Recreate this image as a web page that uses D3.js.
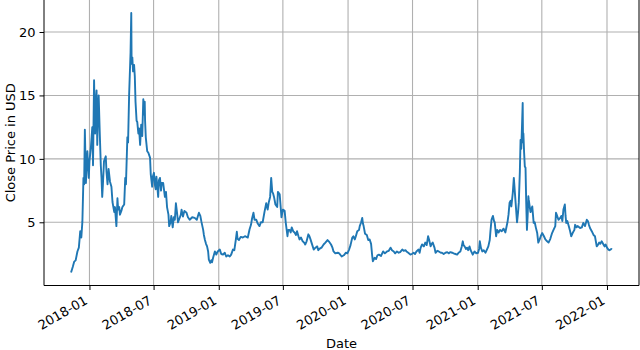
<!DOCTYPE html>
<html>
<head>
<meta charset="utf-8">
<script src="https://cdn.jsdelivr.net/npm/d3@7"></script>
<style>
  body { margin: 0; background: #fff; }
  svg { display: block; font-family: "DejaVu Sans", sans-serif; }
</style>
</head>
<body>
<div id="chart"></div>
<script>
var dates = [
  "2017-11-10","2017-11-15","2017-11-19","2017-11-23","2017-11-28","2017-12-02","2017-12-06","2017-12-09","2017-12-12","2017-12-15",
  "2017-12-17","2017-12-19","2017-12-22","2017-12-24","2017-12-26","2017-12-30","2018-01-01","2018-01-05","2018-01-09","2018-01-11",
  "2018-01-14","2018-01-16","2018-01-17","2018-01-18","2018-01-21","2018-01-23","2018-01-25","2018-01-27","2018-01-30","2018-02-02",
  "2018-02-04","2018-02-06","2018-02-08","2018-02-11","2018-02-16","2018-02-18","2018-02-21","2018-02-24","2018-02-28","2018-03-04",
  "2018-03-07","2018-03-12","2018-03-14","2018-03-18","2018-03-21","2018-03-23","2018-03-26","2018-03-28","2018-04-01","2018-04-04",
  "2018-04-09","2018-04-12","2018-04-14","2018-04-18","2018-04-20","2018-04-23","2018-04-27","2018-04-29","2018-04-30","2018-05-02",
  "2018-05-04","2018-05-07","2018-05-09","2018-05-11","2018-05-14","2018-05-16","2018-05-19","2018-05-21","2018-05-24","2018-05-27",
  "2018-05-30","2018-06-02","2018-06-04","2018-06-06","2018-06-07","2018-06-09","2018-06-13","2018-06-16","2018-06-21","2018-06-23",
  "2018-06-27","2018-06-29","2018-07-02","2018-07-05","2018-07-07","2018-07-09","2018-07-14","2018-07-16","2018-07-19","2018-07-22",
  "2018-07-24","2018-07-28","2018-08-02","2018-08-05","2018-08-08","2018-08-12","2018-08-14","2018-08-18","2018-08-20","2018-08-24",
  "2018-08-27","2018-08-30","2018-09-02","2018-09-05","2018-09-08","2018-09-12","2018-09-16","2018-09-18","2018-09-22","2018-09-26",
  "2018-10-02","2018-10-06","2018-10-11","2018-10-18","2018-10-25","2018-10-31","2018-11-06","2018-11-10","2018-11-13","2018-11-18",
  "2018-11-20","2018-11-23","2018-11-26","2018-11-29","2018-12-02","2018-12-04","2018-12-08","2018-12-11","2018-12-13","2018-12-16",
  "2018-12-21","2018-12-25","2018-12-29","2019-01-04","2019-01-08","2019-01-13","2019-01-18","2019-01-22","2019-01-27","2019-02-01",
  "2019-02-05","2019-02-10","2019-02-14","2019-02-18","2019-02-21","2019-02-23","2019-02-27","2019-03-04","2019-03-10","2019-03-16",
  "2019-03-24","2019-03-29","2019-04-02","2019-04-05","2019-04-09","2019-04-12","2019-04-17","2019-04-21","2019-04-26","2019-04-30",
  "2019-05-05","2019-05-10","2019-05-15","2019-05-19","2019-05-22","2019-05-26","2019-05-29","2019-06-01","2019-06-03","2019-06-06",
  "2019-06-10","2019-06-15","2019-06-17","2019-06-22","2019-06-24","2019-06-27","2019-07-01","2019-07-06","2019-07-09","2019-07-14",
  "2019-07-16","2019-07-20","2019-07-23","2019-07-26","2019-07-30","2019-08-03","2019-08-07","2019-08-10","2019-08-14","2019-08-17",
  "2019-08-21","2019-08-26","2019-08-30","2019-09-02","2019-09-06","2019-09-11","2019-09-14","2019-09-17","2019-09-21","2019-09-26",
  "2019-10-01","2019-10-06","2019-10-09","2019-10-12","2019-10-18","2019-10-24","2019-10-29","2019-11-04","2019-11-09","2019-11-14",
  "2019-11-18","2019-11-21","2019-11-26","2019-12-03","2019-12-07","2019-12-14","2019-12-20","2019-12-26","2019-12-30","2020-01-04",
  "2020-01-08","2020-01-13","2020-01-16","2020-01-20","2020-01-23","2020-01-27","2020-02-01","2020-02-03","2020-02-07","2020-02-10",
  "2020-02-12","2020-02-14","2020-02-18","2020-02-23","2020-02-27","2020-03-02","2020-03-06","2020-03-09","2020-03-11","2020-03-16",
  "2020-03-20","2020-03-24","2020-03-28","2020-04-03","2020-04-09","2020-04-14","2020-04-20","2020-04-25","2020-04-30","2020-05-04",
  "2020-05-09","2020-05-13","2020-05-18","2020-05-23","2020-05-27","2020-06-02","2020-06-06","2020-06-11","2020-06-14","2020-06-19",
  "2020-06-25","2020-06-29","2020-07-04","2020-07-08","2020-07-12","2020-07-18","2020-07-21","2020-07-24","2020-07-28","2020-08-02",
  "2020-08-06","2020-08-10","2020-08-14","2020-08-17","2020-08-21","2020-08-24","2020-08-27","2020-09-01","2020-09-04","2020-09-09",
  "2020-09-13","2020-09-19","2020-09-22","2020-09-27","2020-10-02","2020-10-07","2020-10-11","2020-10-16","2020-10-21","2020-10-25",
  "2020-10-30","2020-11-04","2020-11-08","2020-11-13","2020-11-17","2020-11-20","2020-11-22","2020-11-25","2020-11-29","2020-12-02",
  "2020-12-05","2020-12-09","2020-12-12","2020-12-18","2020-12-21","2020-12-23","2020-12-28","2021-01-02","2021-01-05","2021-01-07",
  "2021-01-10","2021-01-14","2021-01-18","2021-01-23","2021-01-27","2021-01-31","2021-02-04","2021-02-06","2021-02-09","2021-02-13",
  "2021-02-16","2021-02-18","2021-02-22","2021-02-25","2021-03-01","2021-03-05","2021-03-10","2021-03-15","2021-03-20","2021-03-26",
  "2021-03-29","2021-04-01","2021-04-04","2021-04-06","2021-04-10","2021-04-13","2021-04-18","2021-04-22","2021-04-25","2021-04-27",
  "2021-04-30","2021-05-02","2021-05-04","2021-05-06","2021-05-08","2021-05-09","2021-05-10","2021-05-12","2021-05-14","2021-05-16",
  "2021-05-18","2021-05-20","2021-05-22","2021-05-24","2021-05-25","2021-05-30","2021-06-04","2021-06-08","2021-06-11","2021-06-14",
  "2021-06-18","2021-06-21","2021-06-25","2021-06-28","2021-07-02","2021-07-07","2021-07-11","2021-07-16","2021-07-20","2021-07-25",
  "2021-07-30","2021-08-03","2021-08-08","2021-08-10","2021-08-12","2021-08-17","2021-08-22","2021-08-25","2021-08-28","2021-08-31",
  "2021-09-04","2021-09-06","2021-09-08","2021-09-11","2021-09-15","2021-09-18","2021-09-22","2021-09-26","2021-10-01","2021-10-03",
  "2021-10-07","2021-10-10","2021-10-17","2021-10-22","2021-10-26","2021-10-31","2021-11-05","2021-11-08","2021-11-11","2021-11-14",
  "2021-11-19","2021-11-24","2021-11-28","2021-12-03","2021-12-06","2021-12-10","2021-12-13","2021-12-17","2021-12-22","2021-12-25",
  "2021-12-28","2022-01-01","2022-01-05","2022-01-08","2022-01-13","2022-01-15"
];
var closes = [
  1.04,1.5,1.9,2.0,2.7,3.0,4.3,3.8,5.05,8.5,
  8.0,12.3,8.1,9.5,10.6,8.5,9.8,10.9,12.5,9.5,
  16.2,13.0,12.0,14.0,15.4,11.1,13.5,15.0,12.1,9.5,
  8.5,7.0,8.0,9.8,10.2,9.0,8.0,9.2,8.2,7.8,
  6.6,5.8,6.2,4.7,6.9,6.0,6.2,5.6,5.9,6.2,
  6.4,8.5,8.0,11.7,11.3,15.1,18.4,21.5,17.5,18.0,
  16.9,17.4,16.5,14.5,13.0,12.9,12.0,12.4,11.1,12.7,
  11.8,14.7,13.5,14.5,13.0,11.7,10.6,10.5,10.1,8.8,
  7.8,8.6,8.9,7.9,7.6,8.6,7.0,8.3,8.5,7.5,
  8.1,8.1,7.0,7.4,6.2,5.6,4.7,5.0,5.5,4.6,
  5.4,5.2,6.5,5.8,5.0,5.3,5.6,6.0,5.45,5.9,
  5.75,5.4,5.2,5.4,5.35,5.2,5.75,5.5,5.05,4.4,
  4.0,3.6,3.3,3.1,2.7,2.06,1.8,2.0,1.85,2.2,
  2.7,2.45,2.7,2.85,2.5,2.45,2.6,2.3,2.4,2.3,
  2.45,2.85,2.8,3.6,4.25,3.7,3.6,3.85,3.8,3.9,
  3.8,4.45,4.8,5.3,5.75,5.2,5.2,4.9,4.7,5.0,
  5.0,5.8,6.5,6.0,6.55,7.0,8.5,7.4,7.3,7.0,
  6.4,6.2,7.4,7.2,6.5,5.4,6.0,5.9,5.0,3.9,
  4.4,4.4,4.2,4.6,4.3,4.2,4.0,4.3,3.9,3.65,
  3.8,3.5,3.4,3.25,3.5,4.05,3.9,3.65,3.3,2.85,
  3.0,3.1,2.8,2.9,3.0,3.25,3.4,3.6,3.45,3.25,
  3.0,2.7,2.55,2.6,2.55,2.3,2.4,2.6,2.55,2.85,
  3.2,3.8,3.9,3.65,3.9,4.3,4.4,4.7,5.0,5.35,
  4.9,4.7,4.1,4.0,3.6,3.65,3.3,2.4,1.93,2.2,
  2.1,2.4,2.45,2.35,2.7,2.55,2.7,2.75,3.0,2.8,
  2.7,2.55,2.7,2.6,2.65,2.85,2.75,2.8,2.7,2.6,
  2.45,2.5,2.6,2.5,2.7,2.85,2.6,3.0,3.25,3.1,
  3.4,3.2,3.9,3.6,3.1,3.3,3.4,3.0,2.6,2.75,
  2.7,2.6,2.6,2.5,2.6,2.65,2.55,2.65,2.6,2.55,
  2.5,2.45,2.6,2.7,3.1,3.5,3.2,3.1,2.9,3.0,
  2.8,3.1,2.8,2.45,2.6,2.7,2.55,2.6,2.9,3.5,
  3.0,2.7,2.8,2.6,2.85,3.1,3.6,4.3,5.2,5.5,
  5.1,5.0,3.9,4.4,4.2,4.4,4.3,4.5,4.2,5.0,
  5.6,6.55,6.7,6.25,7.3,8.5,6.55,5.0,5.8,6.55,
  9.0,11.5,10.8,12.5,14.4,11.3,12.0,10.5,9.4,9.3,
  6.5,4.4,5.5,7.05,6.8,5.8,6.25,4.95,5.0,4.6,
  4.15,3.4,3.65,3.9,4.15,3.9,3.65,3.5,3.4,3.7,
  4.15,4.4,4.7,5.75,5.6,5.2,5.35,5.5,5.1,6.0,
  6.4,5.5,4.95,5.1,4.7,4.4,3.9,4.15,4.4,4.8,
  4.6,4.7,4.55,4.6,4.95,4.7,5.2,5.1,4.8,4.55,
  4.3,4.0,3.9,3.1,3.2,3.4,3.3,3.5,3.25,3.1,
  3.25,3.0,2.85,2.8,2.9,2.85
];
var xTickDates = ["2018-01-01","2018-07-01","2019-01-01","2019-07-01","2020-01-01","2020-07-01","2021-01-01","2021-07-01","2022-01-01"];
var yTicks = [5, 10, 15, 20];

var W = 640, H = 350;
var margin = {top: 0, right: 1, bottom: 64.5, left: 44};
var width = W - margin.left - margin.right,
    height = H - margin.top - margin.bottom;

var parse = d3.utcParse("%Y-%m-%d");
var data = dates.map(function(d, i) { return {date: parse(d), close: closes[i]}; });

var svg = d3.select("#chart").append("svg")
  .attr("width", W).attr("height", H);
var g = svg.append("g")
  .attr("transform", "translate(" + margin.left + "," + margin.top + ")");

// matplotlib style 5% padding
var xExt = d3.extent(data, function(d) { return d.date; });
var xPad = (xExt[1] - xExt[0]) * 0.05;
var x = d3.scaleUtc()
  .domain([new Date(+xExt[0] - xPad), new Date(+xExt[1] + xPad)])
  .range([0, width]);

var yExt = d3.extent(data, function(d) { return d.close; });
var yPad = (yExt[1] - yExt[0]) * 0.05;
var y = d3.scaleLinear()
  .domain([yExt[0] - yPad, yExt[1] + yPad])
  .range([height, 0]);

var xTicks = xTickDates.map(parse);

// grid
g.append("g").selectAll("line").data(xTicks).enter().append("line")
  .attr("x1", function(d) { return x(d); }).attr("x2", function(d) { return x(d); })
  .attr("y1", 0).attr("y2", height)
  .attr("stroke", "#b0b0b0").attr("stroke-width", 1.1);
g.append("g").selectAll("line").data(yTicks).enter().append("line")
  .attr("y1", function(d) { return y(d); }).attr("y2", function(d) { return y(d); })
  .attr("x1", 0).attr("x2", width)
  .attr("stroke", "#b0b0b0").attr("stroke-width", 1.1);

// line
var line = d3.line()
  .x(function(d) { return x(d.date); })
  .y(function(d) { return y(d.close); });
g.append("path").datum(data)
  .attr("d", line)
  .attr("fill", "none")
  .attr("stroke", "#1f77b4")
  .attr("stroke-width", 1.9)
  .attr("stroke-linejoin", "round");

// axes
var xAxis = g.append("g")
  .attr("transform", "translate(0," + height + ")")
  .call(d3.axisBottom(x).tickValues(xTicks).tickFormat(d3.utcFormat("%Y-%m")).tickSize(4.5).tickPadding(4));
xAxis.select(".domain").remove();
xAxis.selectAll("text")
  .attr("font-size", 13)
  .attr("font-family", "DejaVu Sans")
  .attr("fill", "#000")
  .style("text-anchor", "end")
  .attr("dy", null)
  .attr("y", null)
  .attr("transform", "translate(-1.5,17.5) rotate(-30)");

var yAxis = g.append("g")
  .call(d3.axisLeft(y).tickValues(yTicks).tickSize(4.5).tickPadding(4));
yAxis.select(".domain").remove();
yAxis.selectAll("text")
  .attr("font-size", 13)
  .attr("font-family", "DejaVu Sans")
  .attr("fill", "#000");

// spines
g.append("line").attr("x1", 0).attr("x2", 0).attr("y1", 0).attr("y2", height)
  .attr("stroke", "#000").attr("stroke-width", 1);
g.append("line").attr("x1", width).attr("x2", width).attr("y1", 0).attr("y2", height)
  .attr("stroke", "#000").attr("stroke-width", 1);
g.append("line").attr("x1", 0).attr("x2", width).attr("y1", height).attr("y2", height)
  .attr("stroke", "#000").attr("stroke-width", 1);

// labels
svg.append("text")
  .attr("x", margin.left + width / 2).attr("y", 348)
  .attr("text-anchor", "middle")
  .attr("font-size", 13)
  .text("Date");
svg.append("text")
  .attr("transform", "translate(10," + (margin.top + height / 2) + ") rotate(-90)")
  .attr("text-anchor", "middle")
  .attr("dy", "0.35em")
  .attr("font-size", 13)
  .text("Close Price in USD");
</script>
</body>
</html>
